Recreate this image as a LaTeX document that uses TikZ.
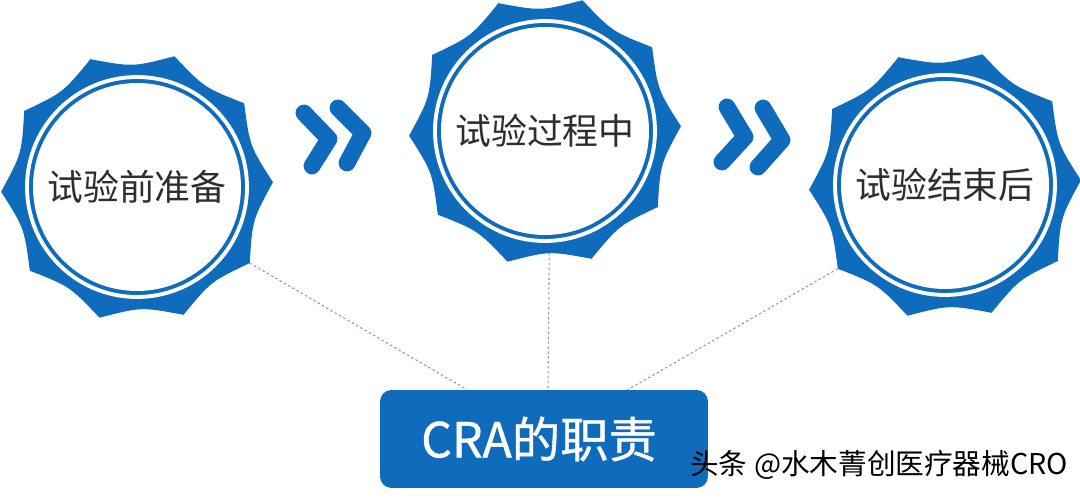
\documentclass[tikz,border=0pt]{standalone}
\usepackage{fontspec}
\setmainfont{Noto Sans CJK SC}
\newfontfamily\dutyfont[FakeBold=0.8]{Noto Sans CJK SC}
\usetikzlibrary{positioning}

\definecolor{sealblue}{HTML}{0F6CBD}
\definecolor{linkgray}{HTML}{8C94CC}
\definecolor{textgray}{HTML}{2E2E2E}

\tikzset{
	seal/.style={fill=sealblue},
	sealtext/.style={text=textgray, inner sep=0pt, font=\fontsize{20.4}{22}\selectfont},
	chevron/.style={draw=sealblue, line width=9.6pt, line cap=round, line join=round},
	link/.style={draw=linkgray, line width=0.6pt, dash pattern=on 1.4pt off 1.4pt},
	dutybox/.style={fill=sealblue, rounded corners=6.5pt, minimum width=6.56cm, minimum height=1.96cm,
		inner sep=0pt, text=white, font=\dutyfont\fontsize{27.5}{30}\selectfont},
	credittext/.style={text=black, inner sep=0pt, font=\fontsize{16.3}{18}\selectfont},
}

\begin{document}
\begin{tikzpicture}[x=0.02cm, y=-0.02cm]
	\useasboundingbox (0,0) rectangle (1080,502);
	% the three stages
	\foreach \name/\cx/\cy/\txt in {pre/137/187/试验前准备, during/545/131/试验过程中, post/945/185/试验结束后}{
		\begin{scope}[shift={(\cx,\cy)}, rotate=2]
			\fill[seal] (0:136) \foreach \a in {36,72,...,360}{ .. controls (\a-18:120) .. (\a:136) } -- cycle;
			\draw[white, line width=2.2pt] (0,0) circle[radius=110];
			\fill[white] (0,0) circle[radius=104];
			\foreach \a in {36,72,...,360} \coordinate (\name-p\a) at (\a:136);
			\coordinate (\name-low) at (90:122);
			\node[sealtext] (\name) at (0,0) {\txt};
		\end{scope}
	}
	% arrows between the stages
	\draw[chevron] (304,113) -- (329,139) -- (312,166);
	\draw[chevron] (338,108) -- (363,133) -- (347,163);
	\draw[chevron] (727,107) -- (745,137) -- (722,162);
	\draw[chevron] (763,108) -- (782,140) -- (758,167);
	% duties
	\node[dutybox] (duty) at (544,439) {\hspace*{-0.2cm}CRA的职责};
	\coordinate (duty-l) at ([xshift=-1.54cm]duty.north);
	\coordinate (duty-m) at ([xshift=0.08cm]duty.north);
	\coordinate (duty-r) at ([xshift=1.68cm]duty.north);
	\draw[link] (pre-p36) -- (duty-l);
	\draw[link] (during-low) -- (duty-m);
	\draw[link] (post-p144) -- (duty-r);
	\node[credittext, anchor=west] (credit) at (690,465) {头条 @水木菁创医疗器械CRO};
\end{tikzpicture}
\end{document}
